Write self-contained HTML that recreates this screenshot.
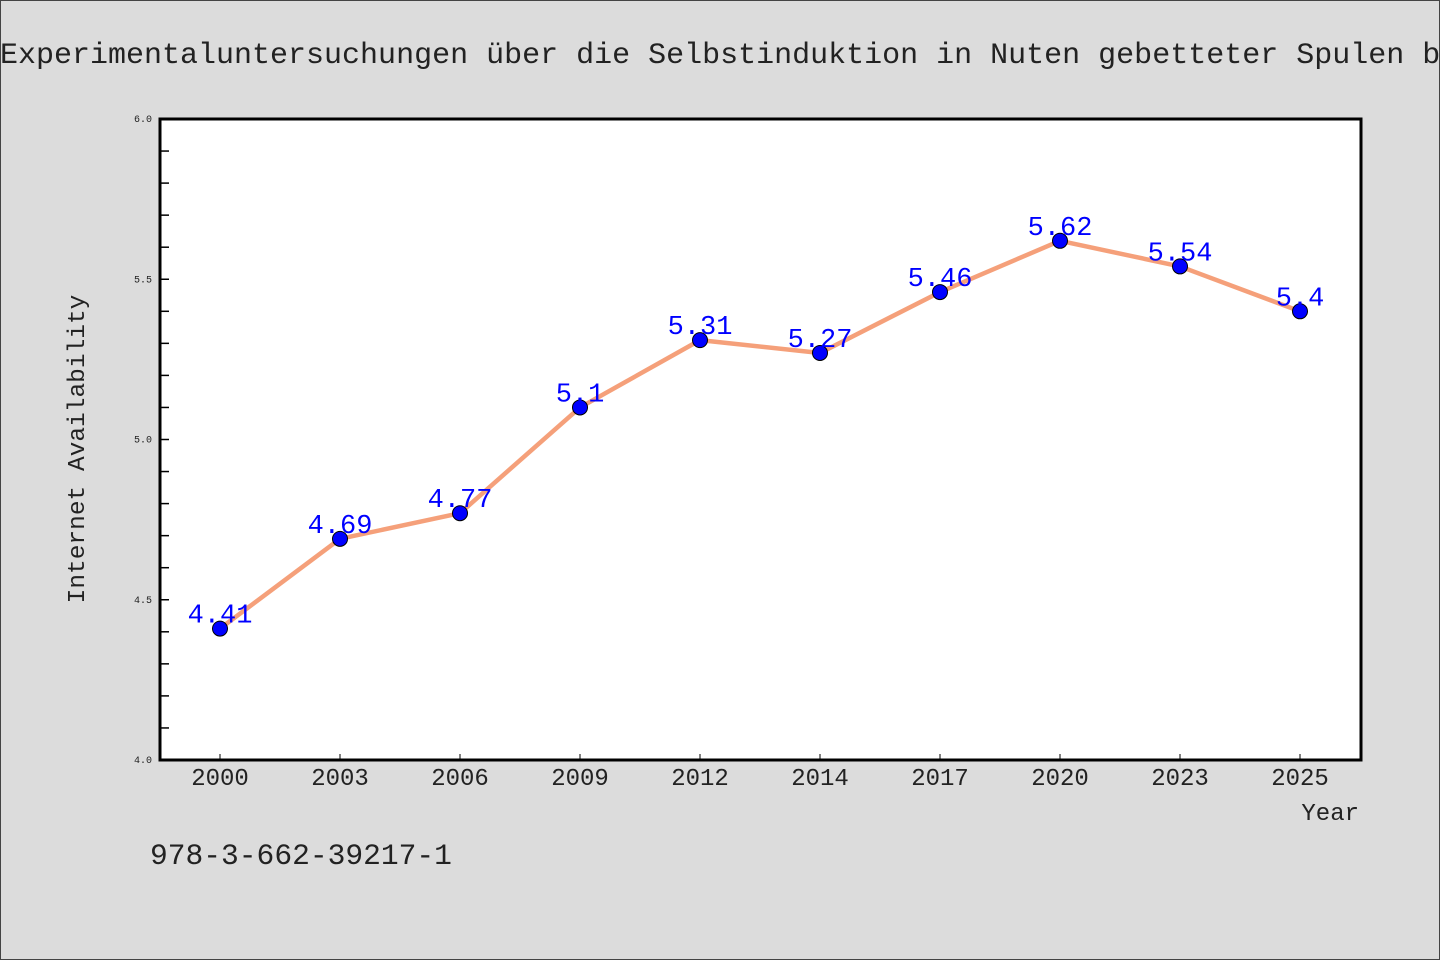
<!DOCTYPE html>
<html><head><meta charset="utf-8"><style>
body{margin:0;background:#dcdcdc;}
svg{display:block;font-family:"WenQuanYi Zen Hei Mono","Liberation Mono",monospace;}
</style></head><body>
<svg id="chart" width="1440" height="960">
<rect x="0.5" y="0.5" width="1439" height="959" fill="#dcdcdc" stroke="#444"/>
<text x="0" y="63" font-size="30" fill="#222">Experimentaluntersuchungen über die Selbstinduktion in Nuten gebetteter Spulen b</text>
<rect x="160" y="119" width="1201" height="641" fill="#fff"/>
<g id="axes"></g>
<g id="series"></g>
<rect x="160" y="119" width="1201" height="641" fill="none" stroke="#000" stroke-width="3"/>
<text x="84" y="449" font-size="24.5" fill="#222" text-anchor="middle" transform="rotate(-90 84 449)">Internet Availability</text>
<text x="1359" y="820" font-size="24" fill="#222" text-anchor="end">Year</text>
<text x="150" y="864" font-size="29.6" fill="#222">978-3-662-39217-1</text>
</svg>
<script>
const categories=["2000","2003","2006","2009","2012","2014","2017","2020","2023","2025"];
const values=[4.41,4.69,4.77,5.1,5.31,5.27,5.46,5.62,5.54,5.4];
const yTickLabels=["4.0","4.5","5.0","5.5","6.0"];
const yMin=4.0,yMax=6.0;
const L=160,R=1361,T=119,B=760;
const NS="http://www.w3.org/2000/svg";
function xs(i){return L+60+i*120;}
function ys(v){return B-(v-yMin)/(yMax-yMin)*(B-T);}
function mk(t,a,p){const e=document.createElementNS(NS,t);for(const k in a)e.setAttribute(k,a[k]);p.appendChild(e);return e;}
const ax=document.getElementById('axes'),se=document.getElementById('series');
for(let k=0;k<=20;k++){const v=yMin+k*0.1;const y=ys(v);
 const ln=mk('line',{x1:L,x2:L+9,y1:y,y2:y,stroke:'#000','stroke-width':1.5},ax);
 
 
}
yTickLabels.forEach(s=>{const t=mk('text',{x:152,y:ys(parseFloat(s))+3,'font-size':10,'text-anchor':'end',fill:'#222'},ax);t.textContent=s;
 
 });
categories.forEach((c,i)=>{const x=xs(i);
 const ln=mk('line',{x1:x,x2:x,y1:B,y2:B-6,stroke:'#000','stroke-width':1},ax);
 
 
 const t=mk('text',{x:x,y:785,'font-size':24,'text-anchor':'middle',fill:'#222'},ax);t.textContent=c;
 
 });
const pl=mk('polyline',{points:values.map((v,i)=>xs(i)+','+ys(v)).join(' '),fill:'none',stroke:'#f5a07a','stroke-width':4.5,'stroke-linejoin':'round'},se);


values.forEach((v,i)=>{
 const c=mk('circle',{cx:xs(i),cy:ys(v),r:7.5,fill:'#0000ff',stroke:'#000','stroke-width':1},se);
 
 
 const t=mk('text',{x:xs(i),y:ys(v)-6,'font-size':27,'text-anchor':'middle',fill:'#0000ff'},se);t.textContent=String(v);
 
 
});
</script>
</body></html>
